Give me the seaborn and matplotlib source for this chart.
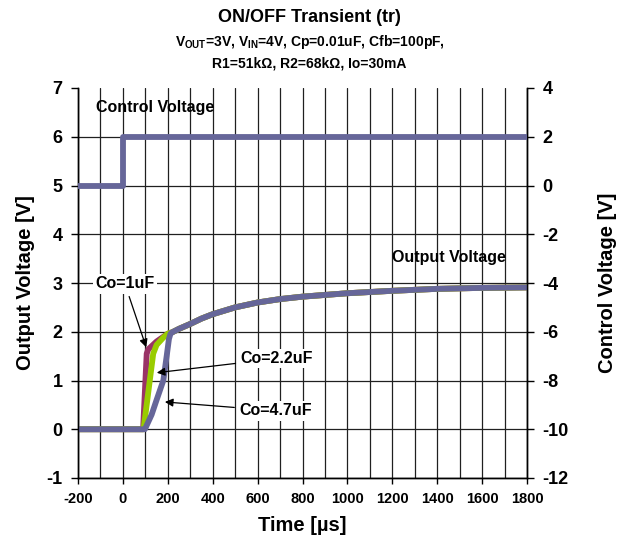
import matplotlib
matplotlib.use("Agg")
import matplotlib.pyplot as plt
from matplotlib.ticker import MultipleLocator
import numpy as np
import pandas as pd
import seaborn as sns

# Output voltage traces (time in µs, volts) for three output capacitors
t_1uF = [-200, 90, 106, 113, 150, 200]
v_1uF = [0.0, 0.0, 1.55, 1.64, 1.80, 1.96]
t_2uF = [-200, 92, 135, 150, 180, 200]
v_2uF = [0.0, 0.0, 1.55, 1.73, 1.88, 1.96]
t_4uF = [-200, 98, 128, 150, 180, 195, 205, 212]
v_4uF = [0.0, 0.0, 0.30, 0.60, 1.00, 1.50, 1.85, 1.96]
# shared settling part of the output
t_tail = [220, 250, 300, 350, 400, 500, 600, 700, 800, 1000, 1200, 1400, 1600, 1800]
v_tail = [1.99, 2.06, 2.16, 2.27, 2.36, 2.50, 2.60, 2.67, 2.72, 2.79, 2.84, 2.88, 2.90, 2.91]

# Control voltage step (right axis)
t_ctrl = [-200, 0, 0, 1800]
v_ctrl = [0.0, 0.0, 2.0, 2.0]

series_names = ["Co=1uF", "Co=2.2uF", "Co=4.7uF"]
series_colors = ["#993366", "#99CC00", "#666699"]

frames = []
for name, tt, vv in zip(series_names, [t_1uF, t_2uF, t_4uF], [v_1uF, v_2uF, v_4uF]):
    frames.append(pd.DataFrame({"t": tt + t_tail, "v": vv + v_tail, "Co": name}))
df_out = pd.concat(frames, ignore_index=True)
df_ctrl = pd.DataFrame({"t": t_ctrl, "v": v_ctrl})

sns.set_theme(style="white")
plt.rcParams["font.family"] = ["Liberation Sans", "DejaVu Sans"]
plt.rcParams["mathtext.fontset"] = "custom"
plt.rcParams["mathtext.rm"] = "Liberation Sans:bold"
plt.rcParams["mathtext.bf"] = "Liberation Sans:bold"
plt.rcParams["axes.unicode_minus"] = False
for key in ["text.color", "axes.labelcolor", "xtick.color", "ytick.color"]:
    plt.rcParams[key] = "black"

LW = 4.2
fig = plt.figure(figsize=(6.19, 5.40), dpi=100)
ax = fig.add_axes([78 / 619, 1 - 478 / 540, (527 - 78) / 619, (478 - 88) / 540])

grid_kw = dict(color="#202020", lw=0.9)
for name, col in zip(series_names, series_colors):
    sub = df_out[df_out["Co"] == name]
    sns.lineplot(data=sub, x="t", y="v", ax=ax, color=col, lw=LW,
                 sort=False, estimator=None, legend=False, zorder=3)

ax.set_xlim(-200, 1800)
ax.set_ylim(-1, 7)
ax.xaxis.set_major_locator(MultipleLocator(200))
ax.xaxis.set_minor_locator(MultipleLocator(100))
ax.yaxis.set_major_locator(MultipleLocator(1))
ax.grid(True, which="both", axis="x", **grid_kw)
ax.grid(True, which="major", axis="y", **grid_kw)
ax.set_axisbelow(True)
ax.tick_params(axis="x", which="major", length=4, width=1, color="black",
               labelsize=10.5, pad=6, direction="out", bottom=True)
ax.tick_params(axis="x", which="minor", length=0)
ax.tick_params(axis="y", which="major", length=5, width=1, color="black",
               labelsize=13, pad=6, direction="out", left=True)
for lab in ax.get_xticklabels() + ax.get_yticklabels():
    lab.set_fontweight("bold")
for s in ["left", "bottom", "right"]:
    ax.spines[s].set_color("black")
    ax.spines[s].set_linewidth(1)
ax.spines["top"].set_visible(False)
ax.set_xlabel("Time [µs]", fontsize=14.5, fontweight="bold", labelpad=7)
ax.set_ylabel("Output Voltage [V]", fontsize=14.5, fontweight="bold", labelpad=8)

ax2 = ax.twinx()
sns.lineplot(data=df_ctrl, x="t", y="v", ax=ax2, color="#666699", lw=LW,
             sort=False, estimator=None, legend=False, zorder=3)
ax2.set_ylim(-12, 4)
ax2.yaxis.set_major_locator(MultipleLocator(2))
ax2.tick_params(axis="y", length=5, width=1, color="black", labelsize=13,
                pad=6, direction="out", right=True)
for lab in ax2.get_yticklabels():
    lab.set_fontweight("bold")
ax2.grid(False)
for s in ["left", "bottom", "right"]:
    ax2.spines[s].set_color("black")
    ax2.spines[s].set_linewidth(1)
ax2.spines["top"].set_visible(False)
ax2.set_ylabel("Control Voltage [V]", fontsize=14.5, fontweight="bold", labelpad=21)

# no horizontal grid line along the top edge
for loc, tick in zip(ax.get_yticks(), ax.yaxis.get_major_ticks()):
    if abs(loc - 7) < 1e-9:
        tick.gridline.set_visible(False)

# text labels and arrows
txt_kw = dict(fontsize=11.5, fontweight="bold", ha="center", va="center", zorder=5)
box = dict(boxstyle="square,pad=0.15", fc="white", ec="none")
arrow = dict(arrowstyle="-|>", color="black", lw=0.9, mutation_scale=12,
             shrinkA=2, shrinkB=0)
ax.text(142, 6.6, "Control Voltage", **txt_kw)
ax.text(1452, 3.52, "Output Voltage", **txt_kw)
ax.annotate("Co=1uF", xy=(104, 1.68), xytext=(9, 2.98), bbox=box,
            arrowprops=arrow, **txt_kw)
ax.annotate("Co=2.2uF", xy=(151, 1.16), xytext=(686, 1.45), bbox=box,
            arrowprops=arrow, **txt_kw)
ax.annotate("Co=4.7uF", xy=(187, 0.56), xytext=(681, 0.38), bbox=box,
            arrowprops=arrow, **txt_kw)

fig.text(0.5, 1 - 18 / 540, "ON/OFF Transient (tr)", ha="center", va="center",
         fontsize=13, fontweight="bold")
fig.text(0.5, 1 - 42 / 540,
         r"V$_{\mathrm{OUT}}$=3V, V$_{\mathrm{IN}}$=4V, Cp=0.01uF, Cfb=100pF,",
         ha="center", va="center", fontsize=10, fontweight="bold")
fig.text(0.5, 1 - 64 / 540, "R1=51kΩ, R2=68kΩ, Io=30mA", ha="center",
         va="center", fontsize=10, fontweight="bold")

fig.savefig("out.png", dpi=100)
